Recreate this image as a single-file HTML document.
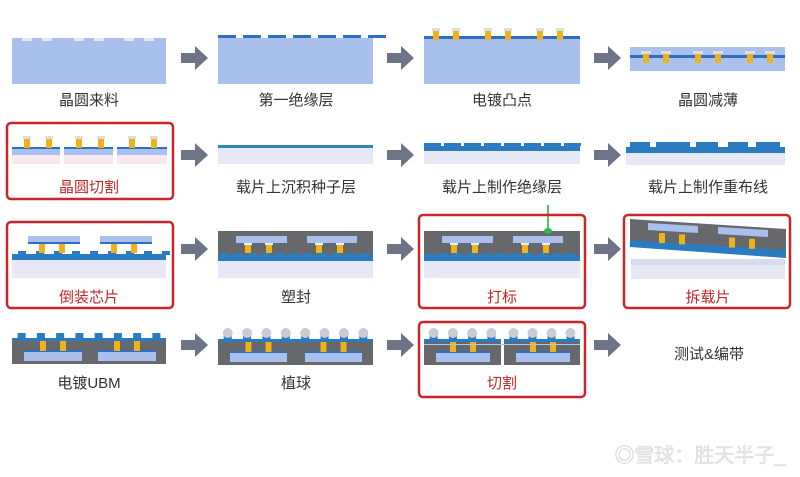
<!DOCTYPE html>
<html><head><meta charset="utf-8"><style>
html,body{margin:0;padding:0;background:#fff;width:800px;height:477px;overflow:hidden}
svg{display:block}
text{font-family:"Liberation Sans","Noto Sans CJK SC",sans-serif;font-size:15px;text-anchor:middle;fill:#333}
.r{fill:#c0282c}
</style></head><body>
<svg id="s" width="800" height="477" viewBox="0 0 800 477" xmlns="http://www.w3.org/2000/svg">
<g id="g"></g>
<rect x="7" y="123" width="166" height="76" rx="4" fill="none" stroke="#c8262b" stroke-width="2.5"/>
<rect x="7" y="222" width="166" height="86" rx="4" fill="none" stroke="#c8262b" stroke-width="2.5"/>
<rect x="419" y="215" width="166" height="93" rx="4" fill="none" stroke="#c8262b" stroke-width="2.5"/>
<rect x="624" y="215" width="166" height="93" rx="4" fill="none" stroke="#c8262b" stroke-width="2.5"/>
<rect x="419" y="322" width="166" height="75" rx="4" fill="none" stroke="#c8262b" stroke-width="2.5"/>
<text x="89" y="105">晶圆来料</text>
<text x="296" y="105">第一绝缘层</text>
<text x="502" y="105">电镀凸点</text>
<text x="708" y="105">晶圆减薄</text>
<text x="89" y="192" class="r">晶圆切割</text>
<text x="296" y="192">载片上沉积种子层</text>
<text x="502" y="192">载片上制作绝缘层</text>
<text x="708" y="192">载片上制作重布线</text>
<text x="89" y="302" class="r">倒装芯片</text>
<text x="296" y="302">塑封</text>
<text x="502" y="302" class="r">打标</text>
<text x="708" y="302" class="r">拆载片</text>
<text x="89" y="388">电镀UBM</text>
<text x="296" y="388">植球</text>
<text x="502" y="388" class="r">切割</text>
<text x="709" y="359">测试&amp;编带</text>
<text x="700" y="462" style="font-size:20px;fill:#e8e8e8;stroke:#c8c8c8;stroke-width:0.3">◎雪球：胜天半子_</text>
</svg>
<script>
var g=document.getElementById('g'),h='';
function R(x,y,w,hh,c){h+='<rect x="'+x+'" y="'+y+'" width="'+w+'" height="'+hh+'" fill="'+c+'"/>';}
var LB='#a9c0ec',BL='#2f6fc0',BL2='#2a7bbf',Y='#f0b21a',GR='#66686b',LT='#e6e9f5';
function A(x,y){h+='<polygon points="'+x+','+(y-5)+' '+(x+14)+','+(y-5)+' '+(x+14)+','+(y-12)+' '+(x+27)+','+y+' '+(x+14)+','+(y+12)+' '+(x+14)+','+(y+5)+' '+x+','+(y+5)+'" fill="#6d7486"/>';}
[58,155,249,345].forEach(function(y){A(181,y);A(387,y);A(594,y);});
// row1
R(12,38,154,46,LB);[22,42,74,94,124,144].forEach(function(x){R(x,38,10,3,'#e3e8f5');});
R(218,38,155,46,LB);for(var x=218;x<373;x+=25)R(x,35,18,3,BL);
R(424,38,156,46,LB);R(424,36,156,3,BL);[436,456,488,508,540,560].forEach(function(x){R(x-3,28,6,12,Y);R(x-4,28,8,3,'#ddd');});
R(630,47,155,24,LB);R(630,55,155,3,BL);[646,666,698,718,750,770].forEach(function(x){R(x-3,52,6,11,Y);R(x-5,51,10,3,'#ddd');});
// row2
[[12,60],[64,113],[117,167]].forEach(function(p){R(p[0],147,p[1]-p[0],2,BL);R(p[0],149,p[1]-p[0],6,LB);R(p[0],155,p[1]-p[0],9,'#f6e8ec');
 [p[0]+15,p[0]+37].forEach(function(x){R(x-3,136,6,12,Y);R(x-4,136,8,3,'#ddd');});});
R(218,145,155,3,'#2a87b5');R(218,148,155,16,LT);
R(424,146,156,5,BL2);R(424,151,156,13,LT);for(var x=424;x<580;x+=20)R(x,143,17,3,BL2);
R(626,147,159,6,BL2);R(626,153,159,12,LT);[[630,650],[656,690],[696,718],[728,748],[756,780]].forEach(function(p){R(p[0],142,p[1]-p[0],5,BL2);});
// row3 col1
R(12,254,154,6,BL2);R(12,260,154,18,LT);for(var x=18;x<166;x+=18)R(x,251,8,4,BL2);
[[28,80],[100,152]].forEach(function(p){R(p[0],236,p[1]-p[0],7,LB);R(p[0],242,p[1]-p[0],2,BL);[p[0]+14,p[0]+34].forEach(function(x){R(x-3,244,6,9,Y);});});
// row3 col2 & col3
function mold(x0,w){R(x0,231,w,27,GR);R(x0,255,w,6,BL2);R(x0,261,w,17,LT);
 for(var x=x0+6;x<x0+w;x+=14)h+='<ellipse cx="'+x+'" cy="255" rx="5" ry="2" fill="#2a80c0"/>';
 [[x0+18,x0+69],[x0+89,x0+139]].forEach(function(p){R(p[0],236,p[1]-p[0],7,LB);[p[0]+12,p[0]+33].forEach(function(x){R(x-3,243,6,10,Y);R(x-4,243,8,2,'#eee');});});}
mold(218,155);mold(424,156);
h+='<line x1="548" y1="205" x2="548" y2="230" stroke="#28a745" stroke-width="1.5"/><ellipse cx="548" cy="231" rx="4" ry="3" fill="#2db84a"/>';
// row3 col4
h+='<polygon points="630,219 786,229 786,258 630,246" fill="'+GR+'"/><polygon points="630,240 786,250 786,258 630,247" fill="'+BL2+'"/>';
h+='<polygon points="648,223 698,226 698,233 648,230" fill="'+LB+'"/><polygon points="718,227 768,230 768,237 718,234" fill="'+LB+'"/>';
[662,682,732,752].forEach(function(x){var dy=(x-630)*0.064;R(x-3,231+dy,6,10,Y);});
R(631,259,154,20,LT);R(631,259,154,6,'#d6dcef');
// row4
function pkg(x0,w,y0,nb,balls,chips){R(x0,y0,w,26,GR);R(x0,y0,w,3,BL2);
 var st=w/nb;for(var i=0;i<nb;i++){var cx=x0+st*(i+0.5);R(cx-4,y0-5,8,6,BL2);if(balls)h+='<circle cx="'+cx+'" cy="'+(y0-6)+'" r="5" fill="#c9ccd4"/>';}
 chips.forEach(function(p){R(p[0],y0+13,p[1]-p[0],10,LB);R(p[0],y0+12,p[1]-p[0],2,BL);var m=(p[0]+p[1])/2;[m-10,m+10].forEach(function(x){R(x-3,y0+3,6,10,Y);});});}
pkg(12,154,338,8,false,[[24,82],[98,156]]);
pkg(218,155,339,8,true,[[230,287],[305,362]]);
pkg(424,77,339,4,true,[[436,490]]);pkg(504,76,339,4,true,[[516,570]]);R(424,344,156,1,'#9fd0f0');
g.innerHTML=h;
</script>
</body></html>
